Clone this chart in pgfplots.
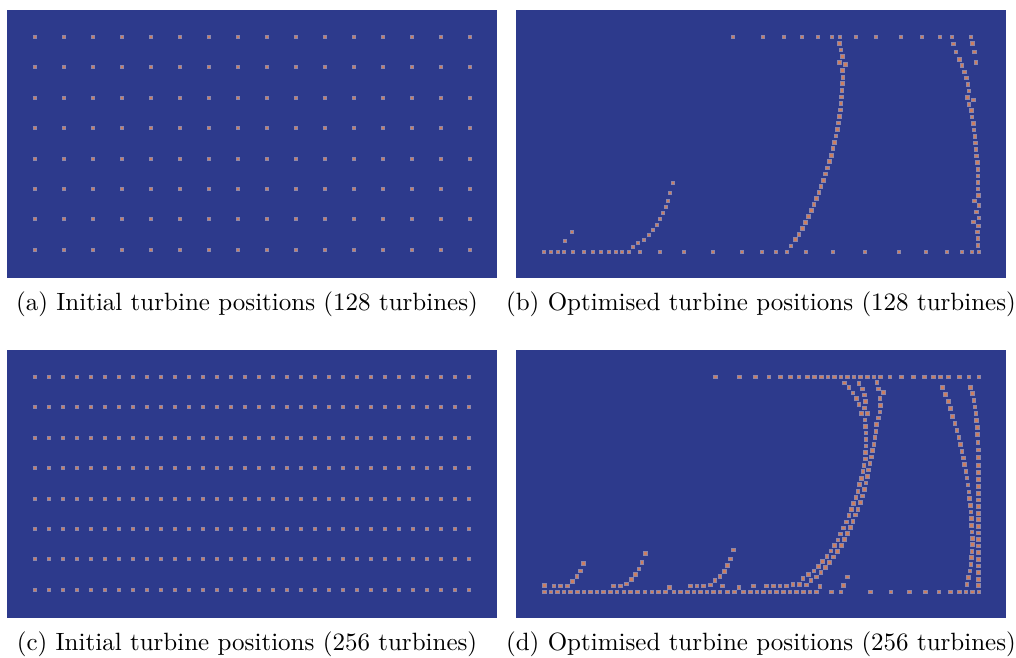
\documentclass[border=0pt]{standalone}
\usepackage{pgfplots}
\pgfplotsset{compat=1.18}
\definecolor{bgblue}{RGB}{45,58,140}
\definecolor{dotfill}{RGB}{205,125,95}
\definecolor{dotedge}{RGB}{140,135,170}
\pgfplotsset{
 panel/.style={scale only axis, width=196pt, height=107.2pt, xmin=0, xmax=490, ymin=0, ymax=268, y dir=reverse, ticks=none, axis line style={draw=none}, axis background/.style={fill=bgblue}, anchor=north west, clip=false},
 dots/.style={only marks, mark=square*, mark size=0.75pt, mark options={fill=dotfill, draw=dotedge, line width=0.4pt}},
}
\begin{document}
\begin{tikzpicture}
\useasboundingbox (0,0) rectangle (406.4pt,-262.8pt);
% (a)
\begin{axis}[panel, at={(2.8pt,-4pt)}]
\addplot[dots] coordinates {(28,27) (57,27) (86,27) (115,27) (144,27) (173,27) (202,27) (231,27) (260,27) (289,27) (318,27) (347,27) (376,27) (405,27) (434,27) (463,27)};
\addplot[dots] coordinates {(28,57) (57,57) (86,57) (115,57) (144,57) (173,57) (202,57) (231,57) (260,57) (289,57) (318,57) (347,57) (376,57) (405,57) (434,57) (463,57)};
\addplot[dots] coordinates {(28,88) (57,88) (86,88) (115,88) (144,88) (173,88) (202,88) (231,88) (260,88) (289,88) (318,88) (347,88) (376,88) (405,88) (434,88) (463,88)};
\addplot[dots] coordinates {(28,118) (57,118) (86,118) (115,118) (144,118) (173,118) (202,118) (231,118) (260,118) (289,118) (318,118) (347,118) (376,118) (405,118) (434,118) (463,118)};
\addplot[dots] coordinates {(28,149) (57,149) (86,149) (115,149) (144,149) (173,149) (202,149) (231,149) (260,149) (289,149) (318,149) (347,149) (376,149) (405,149) (434,149) (463,149)};
\addplot[dots] coordinates {(28,179) (57,179) (86,179) (115,179) (144,179) (173,179) (202,179) (231,179) (260,179) (289,179) (318,179) (347,179) (376,179) (405,179) (434,179) (463,179)};
\addplot[dots] coordinates {(28,209) (57,209) (86,209) (115,209) (144,209) (173,209) (202,209) (231,209) (260,209) (289,209) (318,209) (347,209) (376,209) (405,209) (434,209) (463,209)};
\addplot[dots] coordinates {(28,240) (57,240) (86,240) (115,240) (144,240) (173,240) (202,240) (231,240) (260,240) (289,240) (318,240) (347,240) (376,240) (405,240) (434,240) (463,240)};
\end{axis}
% (b)
\begin{axis}[panel, at={(206.4pt,-4pt)}]
% top row
\addplot[dots] coordinates {(217,27) (247,27) (268,27) (286,27) (302,27) (316,27) (324,27) (340,27) (360,27) (385,27) (406,27) (424,27) (436,27) (455,27)};
% bottom row
\addplot[dots] coordinates {(28,242) (35,242) (42,242) (48,242) (57,242) (68,242) (77,242) (85,242) (93,242) (100,242) (106,242) (113,242) (124,242) (144,242) (168,242) (197,242) (226,242) (246,242) (260,242) (271,242) (290,242) (317,242) (349,242) (383,242) (410,242) (431,242) (446,242) (456,242) (463,242)};
% small branch and left curve
\addplot[dots] coordinates {(49,231) (56,222) (117,237) (122,233) (128,230) (133,225) (137,220) (141,215) (144,209) (147,203) (150,197) (152,191) (154,183) (157,173)};
% middle curve
\addplot[dots] coordinates {(323.7,33.7) (325,40) (326.7,46.3) (323.7,52.3) (329.7,54.7) (326.7,60.7) (327,67.3) (326.7,73.7) (326,80.3) (325.7,87) (325,93.7) (324.3,100) (323.3,106.7) (322.3,113) (321.3,119.3) (320,126) (318.7,132.3) (317,138.7) (315.3,145.3) (313.3,151.7) (311.7,158) (309.7,164) (307.3,170.3) (305,176.3) (303,182.7) (300.7,188.7) (298,194.7) (295.3,200.7) (292.7,206.7) (289.7,212.7) (286.3,218.7) (283,224.3) (279.3,229.7) (275,236)};
% right curves
\addplot[dots] coordinates {(437.3,34) (440,42) (443.3,49.3) (446,55.7) (448.7,62) (450.7,68) (452,74.3) (453,81) (451.3,87.3) (453,94.3) (455.3,100.3) (456,107) (457.3,113.7) (458,120) (459,126.7) (459.7,133) (460,139.7) (460.7,146) (461.3,152.7) (462,159.3) (462,166) (462,172.3) (462,179) (462.7,185.7) (458.7,191) (463,195.7) (460.7,202) (463,208) (457.7,212) (462.7,216) (461.3,222) (462,228.7) (462,235.3)};
\addplot[dots] coordinates {(456.7,33.7) (458.3,42) (460,52.3) (457.7,90)};
\end{axis}
% (c)
\begin{axis}[panel, at={(2.8pt,-140pt)}]
\addplot[dots] coordinates {(28,27) (42,27) (56,27) (70,27) (84,27) (98,27) (112,27) (126,27) (140,27) (154,27) (168,27) (182,27) (196,27) (210,27) (224,27) (238,27) (252,27) (266,27) (280,27) (294,27) (308,27) (322,27) (336,27) (350,27) (364,27) (378,27) (392,27) (406,27) (420,27) (434,27) (448,27) (462,27)};
\addplot[dots] coordinates {(28,57) (42,57) (56,57) (70,57) (84,57) (98,57) (112,57) (126,57) (140,57) (154,57) (168,57) (182,57) (196,57) (210,57) (224,57) (238,57) (252,57) (266,57) (280,57) (294,57) (308,57) (322,57) (336,57) (350,57) (364,57) (378,57) (392,57) (406,57) (420,57) (434,57) (448,57) (462,57)};
\addplot[dots] coordinates {(28,88) (42,88) (56,88) (70,88) (84,88) (98,88) (112,88) (126,88) (140,88) (154,88) (168,88) (182,88) (196,88) (210,88) (224,88) (238,88) (252,88) (266,88) (280,88) (294,88) (308,88) (322,88) (336,88) (350,88) (364,88) (378,88) (392,88) (406,88) (420,88) (434,88) (448,88) (462,88)};
\addplot[dots] coordinates {(28,118) (42,118) (56,118) (70,118) (84,118) (98,118) (112,118) (126,118) (140,118) (154,118) (168,118) (182,118) (196,118) (210,118) (224,118) (238,118) (252,118) (266,118) (280,118) (294,118) (308,118) (322,118) (336,118) (350,118) (364,118) (378,118) (392,118) (406,118) (420,118) (434,118) (448,118) (462,118)};
\addplot[dots] coordinates {(28,149) (42,149) (56,149) (70,149) (84,149) (98,149) (112,149) (126,149) (140,149) (154,149) (168,149) (182,149) (196,149) (210,149) (224,149) (238,149) (252,149) (266,149) (280,149) (294,149) (308,149) (322,149) (336,149) (350,149) (364,149) (378,149) (392,149) (406,149) (420,149) (434,149) (448,149) (462,149)};
\addplot[dots] coordinates {(28,179) (42,179) (56,179) (70,179) (84,179) (98,179) (112,179) (126,179) (140,179) (154,179) (168,179) (182,179) (196,179) (210,179) (224,179) (238,179) (252,179) (266,179) (280,179) (294,179) (308,179) (322,179) (336,179) (350,179) (364,179) (378,179) (392,179) (406,179) (420,179) (434,179) (448,179) (462,179)};
\addplot[dots] coordinates {(28,209) (42,209) (56,209) (70,209) (84,209) (98,209) (112,209) (126,209) (140,209) (154,209) (168,209) (182,209) (196,209) (210,209) (224,209) (238,209) (252,209) (266,209) (280,209) (294,209) (308,209) (322,209) (336,209) (350,209) (364,209) (378,209) (392,209) (406,209) (420,209) (434,209) (448,209) (462,209)};
\addplot[dots] coordinates {(28,240) (42,240) (56,240) (70,240) (84,240) (98,240) (112,240) (126,240) (140,240) (154,240) (168,240) (182,240) (196,240) (210,240) (224,240) (238,240) (252,240) (266,240) (280,240) (294,240) (308,240) (322,240) (336,240) (350,240) (364,240) (378,240) (392,240) (406,240) (420,240) (434,240) (448,240) (462,240)};
\end{axis}
% (d)
\begin{axis}[panel, at={(206.4pt,-140pt)}]
% top row
\addplot[dots] coordinates {(199.7,27) (223.3,27) (239.7,27) (253,27) (264.3,27) (274.3,27) (283,27) (291.3,27) (298.3,27) (305.3,27) (312,27) (318.3,27) (325,27) (331.3,27) (338,27) (344.7,27) (351.3,27) (358,27) (364.7,27) (374,27) (385.7,27) (397.7,27) (408.7,27) (417.3,27) (424.3,27) (432.3,27) (443.7,27) (453,27) (463,27)};
% bottom row
\addplot[dots] coordinates {(28.3,242) (35,242) (41.7,242) (48,242) (54.7,242) (61.3,242) (68,242) (74.7,242) (81,242) (87.7,242) (94.3,242) (101,242) (108,242) (114.3,242) (121.7,242) (129,242) (136,242) (142.7,242) (149.3,242) (158,242) (164.7,242) (171.3,242) (178,242) (184.3,242) (191,242) (197.7,242) (204,242) (211.7,242) (218.7,242) (227.7,242) (234.3,242) (241,242) (247.3,242) (254,242) (260.7,242) (267.3,242) (274,242) (280.7,242) (287.3,242) (294,242) (300.7,242) (315.7,242) (325,242) (354.3,242) (375,242) (393.3,242) (409.7,242) (423,242) (434.3,242) (443.3,242) (450,242) (456.7,242) (463,242)};
% second row
\addplot[dots] coordinates {(28.3,235.3) (38,236) (44.7,236) (51.3,236) (97.7,236) (104.7,236) (153.7,237.3) (174.3,236) (181,236) (187.7,236) (194.3,235) (206.7,236) (223,237.3) (237.7,236) (250.7,236) (257.3,236) (264,236) (270.7,236) (277,234.7) (283.7,234.3) (290.3,235) (304,236.7) (327.7,235.7) (331.7,227)};
% small curves
\addplot[dots] coordinates {(56.3,231.3) (61,226.7) (64.3,221) (67.7,213.7) (110.7,234) (115.7,229.7) (119.7,224.7) (123,219) (126,212.7) (129.3,203.7) (199,230.3) (204,226.7) (208.3,221.7) (211.7,215.7) (214.7,209) (217.7,200)};
% left group curves
\addplot[dots] coordinates {(328.7,33) (333,37.7) (337,43) (340.3,48.7) (343,54.7) (345.3,63.7) (349,70) (349.7,76.3) (350,83) (350,89.7) (350,96) (349.7,102.3) (349.3,109) (348,115.3) (347,121.7) (345.3,128.3) (343.7,134.7) (342,141.3) (340,147.3) (337.7,153.7) (335.3,159.7) (333,165.7) (330.3,172) (327.7,178) (324.7,184) (322,190) (318.7,195.7) (315,201) (311,206.3) (306.7,211.7) (302.7,216.7) (298,221) (292.7,224.7) (287,228.7)};
\addplot[dots] coordinates {(343,33.3) (346.3,39) (348.3,45) (349.7,51.7) (348.3,58) (351.7,63.7)};
\addplot[dots] coordinates {(361,32.7) (362.3,39) (367.3,42.7) (364,48.7) (364.3,55.3) (364,62) (362.7,68) (360.7,74.7) (360,81.3) (359,87.7) (358,94.3) (356.7,100.7) (355.7,107) (354,113.7) (352.7,120) (351.3,126.3) (350,133) (348.3,139.7) (346.3,146) (344.3,152.7) (342,159.3) (339.7,165) (337,171.3) (334.3,177.3) (331.7,183.3) (328.7,189.7) (325.3,195.7) (321.3,201.7) (317.7,207) (313.7,212.3) (309.3,217.3) (305,222.3) (300.3,227) (295,230.7)};
% right group curves
\addplot[dots] coordinates {(426.7,37.7) (429.7,44.7) (432.3,51.7) (434.3,58.7) (436.7,66.3) (439,73.7) (441,80.7) (443,87.3) (444.7,94.3) (446,101.3) (447.7,108) (448.7,114.7) (450,121.3) (451,128) (452,135) (453,142) (453.7,148.7) (454.3,155.3) (455,162) (455.3,168.7) (455.7,175.3) (456,182) (456.3,188.3) (456.3,194.7) (456,201.3) (455.7,207.7) (455,214.3) (454,221) (452.7,227.3) (451,234.3)};
\addplot[dots] coordinates {(454.7,37.7) (456.7,43.7) (458,50.3) (459,57) (460,63.7) (460.7,70.7) (461.3,77.7) (461.7,84.7) (462,92.3) (462.3,100) (462.3,107.7) (462.3,115.3) (462.7,122.7) (462.7,129.7) (462.7,136.7) (462.7,143.3) (462.7,150) (462.7,156.7) (462.7,163.3) (462.7,169.7) (462.7,176.3) (462.7,183) (462.7,189.3) (462.7,196) (462.7,202.7) (462.7,209.3) (462.7,216) (462.7,222.7) (462.7,229.3) (462.7,235.3)};
\end{axis}
\node at (98.8pt,-121.6pt) {(a) Initial turbine positions (128 turbines)};
\node at (304.4pt,-121.6pt) {(b) Optimised turbine positions (128 turbines)};
\node at (98.8pt,-257.6pt) {(c) Initial turbine positions (256 turbines)};
\node at (304.4pt,-257.6pt) {(d) Optimised turbine positions (256 turbines)};
\end{tikzpicture}
\end{document}
